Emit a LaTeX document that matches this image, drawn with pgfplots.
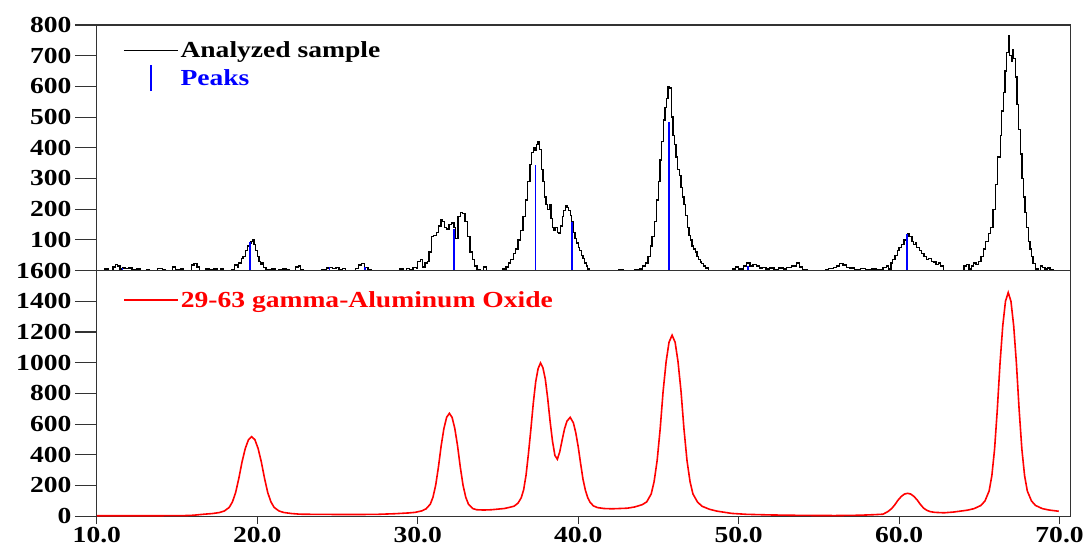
\documentclass[border=0pt]{standalone}
\usepackage{fontspec}
\setmainfont{Liberation Serif}[FakeStretch=1.2]
\usepackage{pgfplots}
\pgfplotsset{compat=1.18}
\usepackage{pgfplotstable}
\newcommand\lab{\fontsize{23}{27}\selectfont\bfseries}

% measured pattern (step data)
\pgfplotstableread{
x y
10.0 0
10.5 5
10.7 0
11.0 12
11.15 20
11.3 15
11.45 5
11.6 8
11.8 6
12.0 8
12.2 3
12.5 5
12.7 0
13.1 3
13.3 0
13.8 6
14.1 3
14.3 0
14.7 12
14.9 4
15.2 5
15.4 0
15.9 18
16.05 22
16.25 12
16.4 0
16.8 5
17.0 3
17.3 5
17.5 0
17.7 5
17.9 0
18.4 3
18.6 18
18.75 10
18.85 25
19.0 40
19.1 45
19.25 65
19.4 80
19.5 90
19.6 95
19.7 100
19.8 85
19.9 65
20.0 45
20.1 30
20.2 20
20.3 25
20.4 10
20.55 3
20.9 5
21.1 0
21.3 3
21.6 5
21.8 3
22.0 0
22.4 12
22.55 15
22.7 3
22.9 0
23.6 0
24.0 4
24.3 8
24.5 10
24.7 6
24.9 10
25.1 3
25.3 6
25.5 0
26.1 6
26.3 18
26.5 22
26.7 10
26.9 3
27.1 0
28.9 5
29.1 0
29.3 6
29.5 3
29.7 10
29.9 8
30.0 30
30.15 36
30.3 12
30.45 25
30.6 30
30.7 60
30.85 110
31.0 115
31.15 125
31.3 145
31.45 165
31.55 160
31.65 140
31.8 135
31.95 150
32.1 155
32.25 140
32.35 105
32.5 175
32.65 190
32.8 185
32.95 160
33.1 110
33.25 60
33.4 35
33.55 15
33.7 3
33.9 0
34.1 12
34.3 0
35.3 5
35.5 12
35.65 25
35.8 35
35.95 55
36.1 70
36.25 100
36.4 130
36.55 175
36.7 230
36.85 290
37.0 345
37.1 385
37.2 400
37.3 390
37.4 410
37.5 420
37.6 395
37.7 330
37.8 290
37.9 240
38.0 215
38.1 200
38.2 215
38.3 170
38.4 140
38.5 130
38.6 140
38.7 125
38.8 120
38.9 145
39.0 175
39.1 195
39.2 210
39.3 205
39.4 195
39.5 180
39.6 160
39.7 125
39.8 105
39.9 90
40.0 75
40.1 65
40.2 50
40.3 40
40.4 25
40.5 15
40.6 5
40.7 0
42.5 3
42.8 0
43.5 3
43.8 5
44.0 15
44.2 25
44.35 45
44.5 80
44.6 110
44.75 160
44.9 230
45.0 290
45.1 360
45.2 420
45.3 490
45.4 530
45.5 560
45.6 600
45.7 595
45.8 500
45.9 440
46.0 410
46.1 370
46.2 330
46.3 310
46.4 270
46.5 240
46.6 215
46.7 180
46.8 140
46.9 115
47.0 100
47.1 80
47.2 70
47.3 60
47.4 45
47.5 35
47.6 28
47.7 22
47.8 15
47.95 8
48.1 0
49.6 5
49.8 12
50.0 5
50.3 15
50.5 25
50.7 15
50.9 20
51.1 15
51.3 8
51.5 10
51.7 5
51.9 8
52.2 3
52.5 8
52.8 5
53.0 10
53.3 15
53.6 25
53.8 12
54.0 3
54.3 0
55.4 3
55.6 6
55.9 10
56.1 15
56.3 22
56.5 18
56.7 10
56.9 8
57.2 4
57.6 6
57.9 3
58.3 5
58.6 3
59.0 10
59.2 15
59.35 5
59.5 25
59.6 35
59.75 50
59.9 65
60.0 75
60.15 85
60.3 100
60.45 110
60.55 120
60.65 110
60.8 95
60.9 85
61.0 90
61.1 75
61.25 65
61.4 55
61.55 45
61.7 35
61.85 40
62.0 30
62.15 28
62.3 20
62.45 25
62.6 15
62.75 0
64.05 15
64.2 20
64.35 5
64.5 15
64.65 25
64.8 20
64.95 30
65.1 45
65.25 70
65.4 95
65.55 120
65.7 140
65.85 200
66.0 280
66.15 370
66.3 440
66.4 520
66.5 580
66.6 650
66.7 710
66.8 765
66.9 700
67.0 680
67.05 720
67.15 690
67.25 630
67.35 540
67.45 460
67.55 380
67.65 300
67.75 240
67.85 190
67.95 140
68.05 95
68.15 70
68.25 45
68.35 22
68.5 5
68.65 0
68.8 15
68.95 10
69.1 5
69.25 8
69.4 3
69.6 0
69.9 0
}\sample

% reference pattern 29-63
\pgfplotstableread{
x y
10.0 3
12.0 3
14.0 3
15.5 4
16.0 6
16.7 13
17.2 17
17.65 24
17.95 34
18.25 57
18.45 93
18.65 154
18.85 247
19.05 354
19.25 441
19.45 498
19.65 518
19.85 498
20.05 441
20.25 354
20.45 247
20.65 154
20.85 93
21.05 57
21.35 34
21.65 24
22.15 17
22.65 13
23.5 12
25.0 11
26.5 11
27.5 12
28.57 16
29.42 21
29.84 25
30.27 35
30.52 48
30.78 78
30.95 124
31.12 203
31.29 321
31.46 459
31.63 571
31.80 644
31.97 670
32.14 644
32.31 571
32.48 459
32.65 321
32.82 203
32.99 124
33.16 78
33.42 50
33.67 42
34.1 40
34.6 42
35.0 46
35.4 50
35.7 57
36.0 65
36.25 85
36.45 120
36.6 172
36.75 268
36.9 408
37.05 566
37.2 735
37.35 875
37.5 961
37.65 998
37.8 967
37.95 893
38.1 766
38.25 616
38.4 487
38.55 395
38.7 371
38.85 419
39.0 497
39.15 570
39.3 619
39.5 644
39.7 608
39.85 543
40.0 452
40.15 343
40.3 240
40.45 168
40.6 119
40.75 89
40.95 67
41.2 56
41.6 50
42.1 48
42.6 50
43.06 52
43.52 60
43.99 75
44.27 93
44.55 145
44.73 225
44.92 363
45.11 570
45.29 811
45.48 1007
45.66 1133
45.85 1179
46.04 1133
46.22 1007
46.41 811
46.59 570
46.78 363
46.97 225
47.15 145
47.43 93
47.71 65
48.18 45
48.64 33
49.57 18
50.5 12
52.0 8
54.0 5
56.0 4
57.5 6
58.5 10
59.0 13
59.3 30
59.53 49
59.73 74
59.93 104
60.13 128
60.33 144
60.53 149
60.73 144
60.93 128
61.13 105
61.33 76
61.53 52
61.73 38
61.93 30
62.2 25
62.8 22
63.4 27
64.25 39
64.67 49
65.1 70
65.35 99
65.61 164
65.78 264
65.95 437
66.12 695
66.29 997
66.46 1241
66.63 1400
66.8 1457
66.97 1400
67.14 1241
67.31 997
67.48 695
67.65 437
67.82 264
67.99 164
68.25 99
68.5 70
68.93 49
69.35 40
69.95 32
}\refpattern

\pgfplotsset{
  panel/.style={
    scale only axis, width=975pt, height=246pt,
    xmin=10, xmax=70.67,
    axis line style={black!80, line width=1.1pt},
    tick align=outside,
    major tick length=22pt,
    every tick/.style={draw=black!80, line width=1.1pt},
    ytick pos=left,
    tick label style={font=\lab},
    /pgf/number format/assume math mode=true,
    /pgf/number format/1000 sep={},
    legend style={anchor=north west, draw=none, fill=none,
      font=\lab, inner sep=0pt, row sep=3pt},
    legend cell align=left,
    % tick marks on the left side (one every eighth of the height)
    extra description/.code={
      \foreach \v in {0,0.125,...,1.01}
        \draw[black!80, line width=1.1pt] (axis description cs:0,\v) -- ++(-22pt,0);
    },
  },
  lineleg/.style={legend image code/.code={\draw[##1] (0pt,0pt) -- (54pt,0pt);}},
  stickleg/.style={legend image code/.code={\draw[##1] (27pt,-13pt) -- (27pt,13pt);}},
}

\begin{document}
\begin{tikzpicture}
\begin{axis}[panel, name=top, ymin=0, ymax=800, ytick={100,200,...,800}, xtick=\empty,
  legend style={at={(0.027,0.94)}}]
  \addplot[black, line width=1.3pt, const plot, no marks, lineleg] table {\sample};
  \addlegendentry{Analyzed sample}
  \addplot[blue, line width=1.6pt, ycomb, no marks, stickleg] coordinates {
    (11.6,8) (19.55,92) (24.5,12) (26.7,12) (32.25,135) (37.35,345)
    (39.6,158) (45.65,485) (50.6,15) (60.5,118)};
  \addlegendentry{\textcolor{blue}{Peaks}}
\end{axis}
\begin{axis}[panel, name=bot, at={(top.south west)}, anchor=north west,
  ymin=0, ymax=1600, ytick={0,200,...,1600}, xtick=\empty,
  legend style={at={(0.027,0.925)}}]
  \addplot[red, line width=1.6pt, no marks, lineleg] table {\refpattern};
  \addlegendentry{\textcolor{red}{29-63 gamma-Aluminum Oxide}}
\end{axis}
% x ticks of the lower panel, with their own short tick length
\begin{axis}[panel, at={(bot.south west)}, anchor=south west,
  ymin=0, ymax=1600, ytick=\empty, axis line style={draw=none},
  major tick length=8pt, xtick={10,20,...,70}, xtick pos=bottom,
  xticklabel style={/pgf/number format/.cd, fixed, fixed zerofill, precision=1},
  extra description/.code={
    \foreach \t in {10,20,...,70}
      \draw[black!80, line width=1.1pt] (axis description cs:{(\t-10)/60.67},0) -- ++(0,-8pt);
  }]
\end{axis}
\path ([xshift=-97pt,yshift=25pt]top.north west) rectangle ([xshift=15pt,yshift=-37pt]bot.south east);
\end{tikzpicture}
\end{document}
